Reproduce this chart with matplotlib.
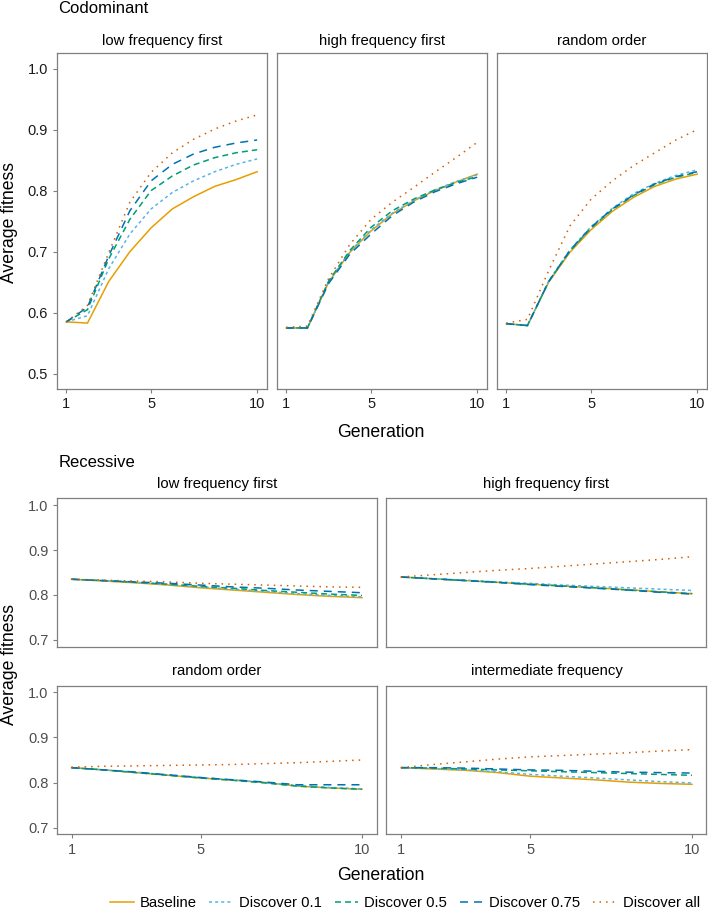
import matplotlib
matplotlib.use("Agg")
import matplotlib.pyplot as plt

W, H = 708, 913
plt.rcParams.update({"font.family": ["Liberation Sans", "DejaVu Sans"],
                     "lines.scale_dashes": False})

generation = list(range(1, 11))
series = ["Baseline", "Discover 0.1", "Discover 0.5", "Discover 0.75", "Discover all"]
colors = ["#E69F00", "#56B4E9", "#009E73", "#0072B2", "#D55E00"]
styles = ["-", (0, (2.2, 2.2)), (0, (4.3, 2.9)), (0, (5.8, 4.3)), (0, (1.1, 3.6))]

# Codominant
cod_low = [
    [0.585, 0.583, 0.651, 0.700, 0.739, 0.770, 0.790, 0.807, 0.818, 0.831],
    [0.585, 0.595, 0.672, 0.729, 0.770, 0.797, 0.816, 0.831, 0.843, 0.852],
    [0.585, 0.605, 0.688, 0.753, 0.800, 0.824, 0.842, 0.854, 0.862, 0.867],
    [0.585, 0.609, 0.693, 0.767, 0.816, 0.843, 0.860, 0.871, 0.878, 0.883],
    [0.585, 0.612, 0.698, 0.781, 0.830, 0.862, 0.884, 0.901, 0.914, 0.924],
]
cod_high = [
    [0.575, 0.575, 0.650, 0.699, 0.734, 0.762, 0.783, 0.800, 0.814, 0.827],
    [0.575, 0.575, 0.651, 0.700, 0.736, 0.763, 0.784, 0.801, 0.815, 0.826],
    [0.575, 0.575, 0.652, 0.702, 0.740, 0.767, 0.786, 0.801, 0.813, 0.823],
    [0.575, 0.575, 0.648, 0.696, 0.729, 0.759, 0.781, 0.798, 0.811, 0.822],
    [0.576, 0.578, 0.656, 0.712, 0.753, 0.781, 0.805, 0.830, 0.854, 0.879],
]
cod_random = [
    [0.582, 0.579, 0.650, 0.699, 0.736, 0.766, 0.789, 0.807, 0.819, 0.827],
    [0.582, 0.579, 0.652, 0.703, 0.741, 0.771, 0.795, 0.812, 0.825, 0.834],
    [0.582, 0.579, 0.651, 0.701, 0.739, 0.769, 0.792, 0.810, 0.822, 0.830],
    [0.582, 0.579, 0.651, 0.702, 0.740, 0.770, 0.793, 0.811, 0.823, 0.831],
    [0.583, 0.589, 0.669, 0.742, 0.786, 0.816, 0.841, 0.862, 0.883, 0.900],
]

# Recessive
rec_low = [
    [0.835, 0.831, 0.827, 0.822, 0.816, 0.811, 0.806, 0.801, 0.797, 0.794],
    [0.835, 0.832, 0.828, 0.823, 0.818, 0.813, 0.808, 0.803, 0.799, 0.796],
    [0.835, 0.832, 0.828, 0.824, 0.819, 0.815, 0.810, 0.806, 0.802, 0.799],
    [0.835, 0.832, 0.829, 0.826, 0.822, 0.818, 0.815, 0.811, 0.808, 0.805],
    [0.835, 0.833, 0.831, 0.829, 0.826, 0.824, 0.822, 0.820, 0.818, 0.817],
]
rec_high = [
    [0.840, 0.836, 0.832, 0.828, 0.824, 0.820, 0.816, 0.812, 0.807, 0.803],
    [0.840, 0.836, 0.833, 0.829, 0.826, 0.822, 0.819, 0.816, 0.813, 0.810],
    [0.840, 0.836, 0.832, 0.828, 0.824, 0.820, 0.816, 0.811, 0.807, 0.803],
    [0.840, 0.836, 0.832, 0.828, 0.823, 0.819, 0.815, 0.811, 0.806, 0.802],
    [0.840, 0.845, 0.850, 0.855, 0.859, 0.864, 0.869, 0.874, 0.879, 0.885],
]
rec_random = [
    [0.833, 0.828, 0.822, 0.816, 0.810, 0.805, 0.800, 0.792, 0.788, 0.785],
    [0.833, 0.828, 0.823, 0.817, 0.811, 0.806, 0.800, 0.793, 0.789, 0.786],
    [0.833, 0.828, 0.822, 0.816, 0.810, 0.805, 0.799, 0.792, 0.788, 0.785],
    [0.833, 0.828, 0.823, 0.817, 0.811, 0.806, 0.801, 0.795, 0.795, 0.795],
    [0.834, 0.836, 0.837, 0.838, 0.839, 0.840, 0.842, 0.844, 0.847, 0.850],
]
rec_inter = [
    [0.833, 0.830, 0.827, 0.822, 0.814, 0.810, 0.806, 0.801, 0.798, 0.796],
    [0.833, 0.831, 0.828, 0.824, 0.818, 0.814, 0.810, 0.806, 0.802, 0.799],
    [0.833, 0.832, 0.830, 0.828, 0.826, 0.824, 0.822, 0.820, 0.818, 0.816],
    [0.833, 0.833, 0.832, 0.830, 0.828, 0.827, 0.825, 0.823, 0.822, 0.821],
    [0.833, 0.840, 0.846, 0.852, 0.857, 0.860, 0.863, 0.866, 0.870, 0.873],
]

cod_titles = ["low frequency first", "high frequency first", "random order"]
rec_titles = ["low frequency first", "high frequency first", "random order",
              "intermediate frequency"]

GRAY = "#7F7F7F"


def px_axes(fig, left, top, right, bottom):
    return fig.add_axes([left / W, 1 - bottom / H, (right - left) / W, (bottom - top) / H])


def style(ax, ylim, yticks, show_y, show_x, tick_color):
    ax.set_xlim(0.55, 10.45)
    ax.set_ylim(*ylim)
    ax.set_xticks([1, 5, 10])
    ax.set_yticks(yticks)
    ax.set_yticklabels([f"{t:.1f}" for t in yticks])
    for s in ax.spines.values():
        s.set_color(GRAY)
        s.set_linewidth(0.9)
    ax.tick_params(axis="both", direction="out", length=2.6, width=0.8, color=GRAY,
                   labelsize=10.5, labelcolor=tick_color, pad=3.5)
    if not show_y:
        ax.tick_params(axis="y", left=False, labelleft=False)
    if not show_x:
        ax.tick_params(axis="x", bottom=False, labelbottom=False)


def draw(ax, data):
    handles = []
    for vals, c, ls, name in zip(data, colors, styles, series):
        h, = ax.plot(generation, vals, color=c, linestyle=ls, lw=1.1, label=name)
        handles.append(h)
    return handles


fig = plt.figure(figsize=(W / 100, H / 100), dpi=100)

# top block
top_lefts = [56.7, 276.7, 496.7]
for i, (left, data, title) in enumerate(zip(top_lefts, [cod_low, cod_high, cod_random], cod_titles)):
    ax = px_axes(fig, left, 53.3, left + 210, 389)
    draw(ax, data)
    style(ax, (0.475, 1.025), [0.5, 0.6, 0.7, 0.8, 0.9, 1.0], i == 0, True, "#1a1a1a")
    fig.text((left + 105) / W, 1 - 45 / H, title, ha="center", va="baseline", fontsize=10.7)

fig.text(58.3 / W, 1 - 13.3 / H, "Codominant", ha="left", va="baseline", fontsize=12)
fig.text(9.5 / W, 1 - 222.5 / H, "Average fitness", rotation=90, ha="center", va="center",
         fontsize=12.7)
fig.text(381 / W, 1 - 436.5 / H, "Generation", ha="center", va="baseline", fontsize=12.7)

# bottom block
cols = [(57, 376.5), (386.5, 706.5)]
rows = [(498.3, 646.7), (685.7, 834.3)]
title_base = [488.3, 675]
rec_data = [rec_low, rec_high, rec_random, rec_inter]
handles = None
for k, (data, title) in enumerate(zip(rec_data, rec_titles)):
    r, c = divmod(k, 2)
    ax = px_axes(fig, cols[c][0], rows[r][0], cols[c][1], rows[r][1])
    handles = draw(ax, data)
    style(ax, (0.685, 1.015), [0.7, 0.8, 0.9, 1.0], c == 0, r == 1, "#4d4d4d")
    fig.text((cols[c][0] + cols[c][1]) / 2 / W, 1 - title_base[r] / H, title,
             ha="center", va="baseline", fontsize=10.7)

fig.text(59 / W, 1 - 466.7 / H, "Recessive", ha="left", va="baseline", fontsize=12)
fig.text(9.5 / W, 1 - 664 / H, "Average fitness", rotation=90, ha="center", va="center",
         fontsize=12.7)
fig.text(381 / W, 1 - 880 / H, "Generation", ha="center", va="baseline", fontsize=12.7)

fig.legend(handles, series, loc="center", bbox_to_anchor=(405 / W, 1 - 903 / H), ncol=5,
           frameon=False, fontsize=10.7, handlelength=1.6, handletextpad=0.4,
           columnspacing=0.85, borderaxespad=0, borderpad=0)

fig.savefig("out.png", dpi=100)
